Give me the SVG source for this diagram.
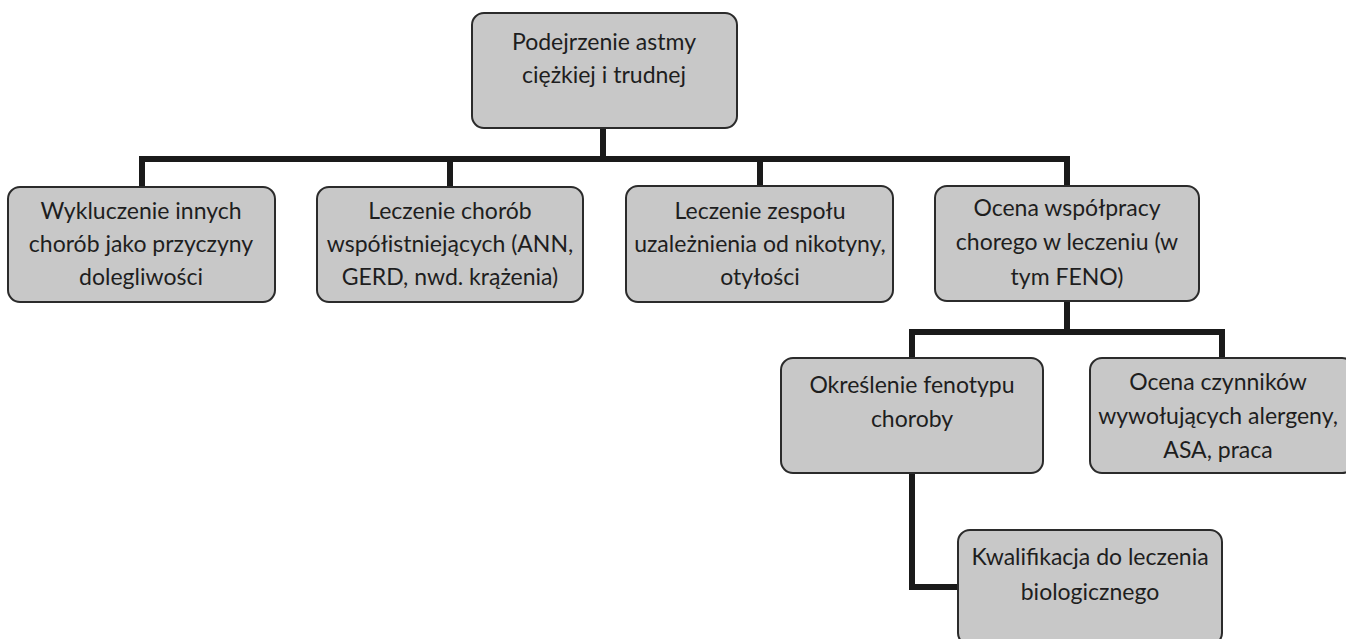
<svg xmlns="http://www.w3.org/2000/svg" width="1346" height="639" viewBox="0 0 1346 639">
<style>
.box{fill:#c8c8c8;stroke:#2b2b2b;stroke-width:2}
.t{font-family:Lato,"Liberation Sans",sans-serif;font-size:23px;fill:#1e1e1e;text-anchor:middle}
.c{fill:none;stroke:#1a1a1a;stroke-width:6;stroke-linejoin:miter;stroke-linecap:butt}
</style>
<rect width="1346" height="639" fill="#ffffff"/>
<g id="connectors">
<path class="c" d="M603 128 V159"/>
<path class="c" d="M142 187 V159 H1067 V187"/>
<path class="c" d="M450 159 V187"/>
<path class="c" d="M760 159 V187"/>
<path class="c" d="M1067 301 V332"/>
<path class="c" d="M912 358 V332 H1222 V358"/>
<path class="c" d="M912 473 V587 H958"/>
</g>
<g id="n0">
<rect class="box" x="472" y="13" width="265" height="115" rx="12"/>
<text class="t" x="604" y="50">Podejrzenie astmy</text>
<text class="t" x="604" y="83">ciężkiej i trudnej</text>
</g>
<g id="n1">
<rect class="box" x="8" y="187" width="267" height="115" rx="12"/>
<text class="t" x="141" y="219">Wykluczenie innych</text>
<text class="t" x="141" y="252">chorób jako przyczyny</text>
<text class="t" x="141" y="285">dolegliwości</text>
</g>
<g id="n2">
<rect class="box" x="317" y="187" width="266" height="115" rx="12"/>
<text class="t" x="450" y="219">Leczenie chorób</text>
<text class="t" x="450" y="252">współistniejących (ANN,</text>
<text class="t" x="450" y="285">GERD, nwd. krążenia)</text>
</g>
<g id="n3">
<rect class="box" x="626" y="186" width="267" height="116" rx="12"/>
<text class="t" x="760" y="219">Leczenie zespołu</text>
<text class="t" x="760" y="252">uzależnienia od nikotyny,</text>
<text class="t" x="760" y="285">otyłości</text>
</g>
<g id="n4">
<rect class="box" x="935" y="186" width="264" height="115" rx="12"/>
<text class="t" x="1067" y="216">Ocena współpracy</text>
<text class="t" x="1067" y="250">chorego w leczeniu (w</text>
<text class="t" x="1067" y="285">tym FENO)</text>
</g>
<g id="n5">
<rect class="box" x="781" y="358" width="262" height="115" rx="12"/>
<text class="t" x="912" y="393">Określenie fenotypu</text>
<text class="t" x="912" y="427">choroby</text>
</g>
<g id="n6">
<rect class="box" x="1090" y="358" width="264" height="115" rx="12"/>
<text class="t" x="1218" y="390">Ocena czynników</text>
<text class="t" x="1218" y="424">wywołujących alergeny,</text>
<text class="t" x="1218" y="458">ASA, praca</text>
</g>
<g id="n7">
<rect class="box" x="958" y="530" width="264" height="115" rx="12"/>
<text class="t" x="1090" y="565">Kwalifikacja do leczenia</text>
<text class="t" x="1090" y="600">biologicznego</text>
</g>
</svg>
